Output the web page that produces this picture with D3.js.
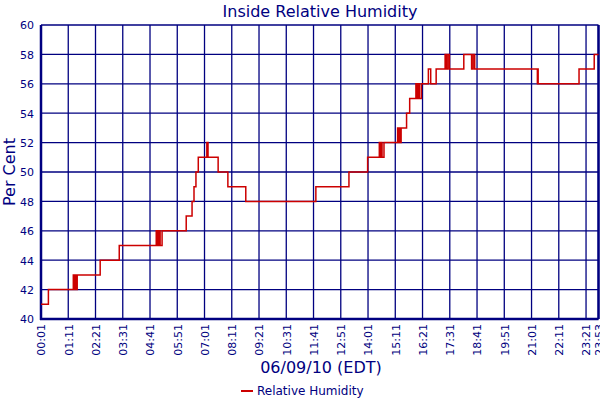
<!DOCTYPE html>
<html><head><meta charset="utf-8">
<script src="https://cdn.jsdelivr.net/npm/d3@7"></script>
<style>body{margin:0;background:#fff}svg{display:block}text{font-family:"DejaVu Sans",Verdana,sans-serif;fill:#000080}</style>
</head><body><svg id="c" width="600" height="400"></svg>
<script>
const times = ["00:01","00:20","01:24","01:26","01:28","01:29","01:31","01:32","01:34","02:33","03:22","04:57","04:59","05:01","05:03","05:05","05:07","05:09","05:12","06:14","06:29","06:34","06:39","06:45","07:07","07:10","07:36","08:01","08:47","11:47","13:12","14:00","14:30","14:32","14:35","14:37","14:40","14:42","15:17","15:19","15:22","15:24","15:26","15:40","15:48","16:04","16:07","16:10","16:13","16:18","16:36","16:42","16:56","17:19","17:22","17:26","17:30","18:07","18:27","18:31","18:35","21:16","21:17","21:18","23:03","23:42","23:53"];
const humidity = [41,42,43,42,43,42,43,42,43,44,45,46,45,46,45,46,45,45,46,47,48,49,50,51,52,51,50,49,48,49,50,51,52,51,52,51,51,52,53,52,53,52,53,54,55,56,55,56,55,56,57,56,57,58,57,58,57,58,57,58,57,56,57,56,57,58,58];
const xTickLabels = ["00:01","01:11","02:21","03:31","04:41","05:51","07:01","08:11","09:21","10:31","11:41","12:51","14:01","15:11","16:21","17:31","18:41","19:51","21:01","22:11","23:21","23:53"];
const yTicks = [40,42,44,46,48,50,52,54,56,58,60];
const title = "Inside Relative Humidity";
const xTitle = "06/09/10 (EDT)";
const yTitle = "Per Cent";
const seriesName = "Relative Humidity";

const parse = s => { const [h,m] = s.split(":").map(Number); return new Date(2010,5,9,h,m); };
const data = times.map((t,i)=>({t:parse(t), v:humidity[i]}));
const tickDates = xTickLabels.map(parse);

const L=41, R=598.5, T=25, B=319;
const navy="#000080";
const svg = d3.select("#c");
const x = d3.scaleTime().domain([tickDates[0], tickDates[tickDates.length-1]]).range([L,R]);
const y = d3.scaleLinear().domain([40,60]).range([B,T]);

// grid
const g = svg.append("g");
g.selectAll("line.h").data(yTicks).join("line").attr("x1",L).attr("x2",R)
 .attr("y1",d=>y(d)).attr("y2",d=>y(d)).attr("stroke",navy).attr("stroke-width",1.3);
g.selectAll("line.v").data(tickDates).join("line").attr("y1",T).attr("y2",B)
 .attr("x1",d=>x(d)).attr("x2",d=>x(d)).attr("stroke",navy).attr("stroke-width",1.3);
// frame
svg.append("line").attr("x1",L).attr("x2",L).attr("y1",T).attr("y2",B+1).attr("stroke",navy).attr("stroke-width",2.5);
svg.append("line").attr("x1",L-1).attr("x2",R).attr("y1",B).attr("y2",B).attr("stroke",navy).attr("stroke-width",2.5);
svg.append("line").attr("x1",R).attr("x2",R).attr("y1",T).attr("y2",B).attr("stroke",navy).attr("stroke-width",2.5);

// axes labels via d3 axes
const ya = svg.append("g").attr("transform",`translate(${L-7},0)`)
 .call(d3.axisLeft(y).tickValues(yTicks).tickSize(0).tickFormat(d3.format("d")));
ya.select(".domain").remove();
ya.selectAll("text").attr("font-size",11).attr("fill",navy).attr("dy","0.35em").attr("x",0);

const xa = svg.append("g").attr("transform",`translate(0,${B+4})`)
 .call(d3.axisBottom(x).tickValues(tickDates).tickSize(0).tickFormat((d,i)=>xTickLabels[i]));
xa.select(".domain").remove();
xa.selectAll("text").attr("font-size",11).attr("fill",navy)
 .attr("transform","rotate(-90)").attr("text-anchor","end").attr("x",-1).attr("y",0).attr("dy","0.35em");

// line
svg.append("path").datum(data).attr("fill","none").attr("stroke","#cc0000").attr("stroke-width",1.5)
 .attr("d", d3.line().x(d=>x(d.t)).y(d=>y(d.v)).curve(d3.curveStepAfter));

// titles
svg.append("text").attr("x",320).attr("y",17).attr("text-anchor","middle").attr("font-size",16).text(title);
svg.append("text").attr("x",321).attr("y",373).attr("text-anchor","middle").attr("font-size",16).text(xTitle);
svg.append("text").attr("transform","translate(15,172) rotate(-90)").attr("text-anchor","middle").attr("font-size",16).text(yTitle);
// legend
svg.append("line").attr("x1",241).attr("x2",253).attr("y1",391).attr("y2",391).attr("stroke","#cc0000").attr("stroke-width",2);
svg.append("text").attr("x",257).attr("y",395).attr("font-size",12).text(seriesName);
</script></body></html>
